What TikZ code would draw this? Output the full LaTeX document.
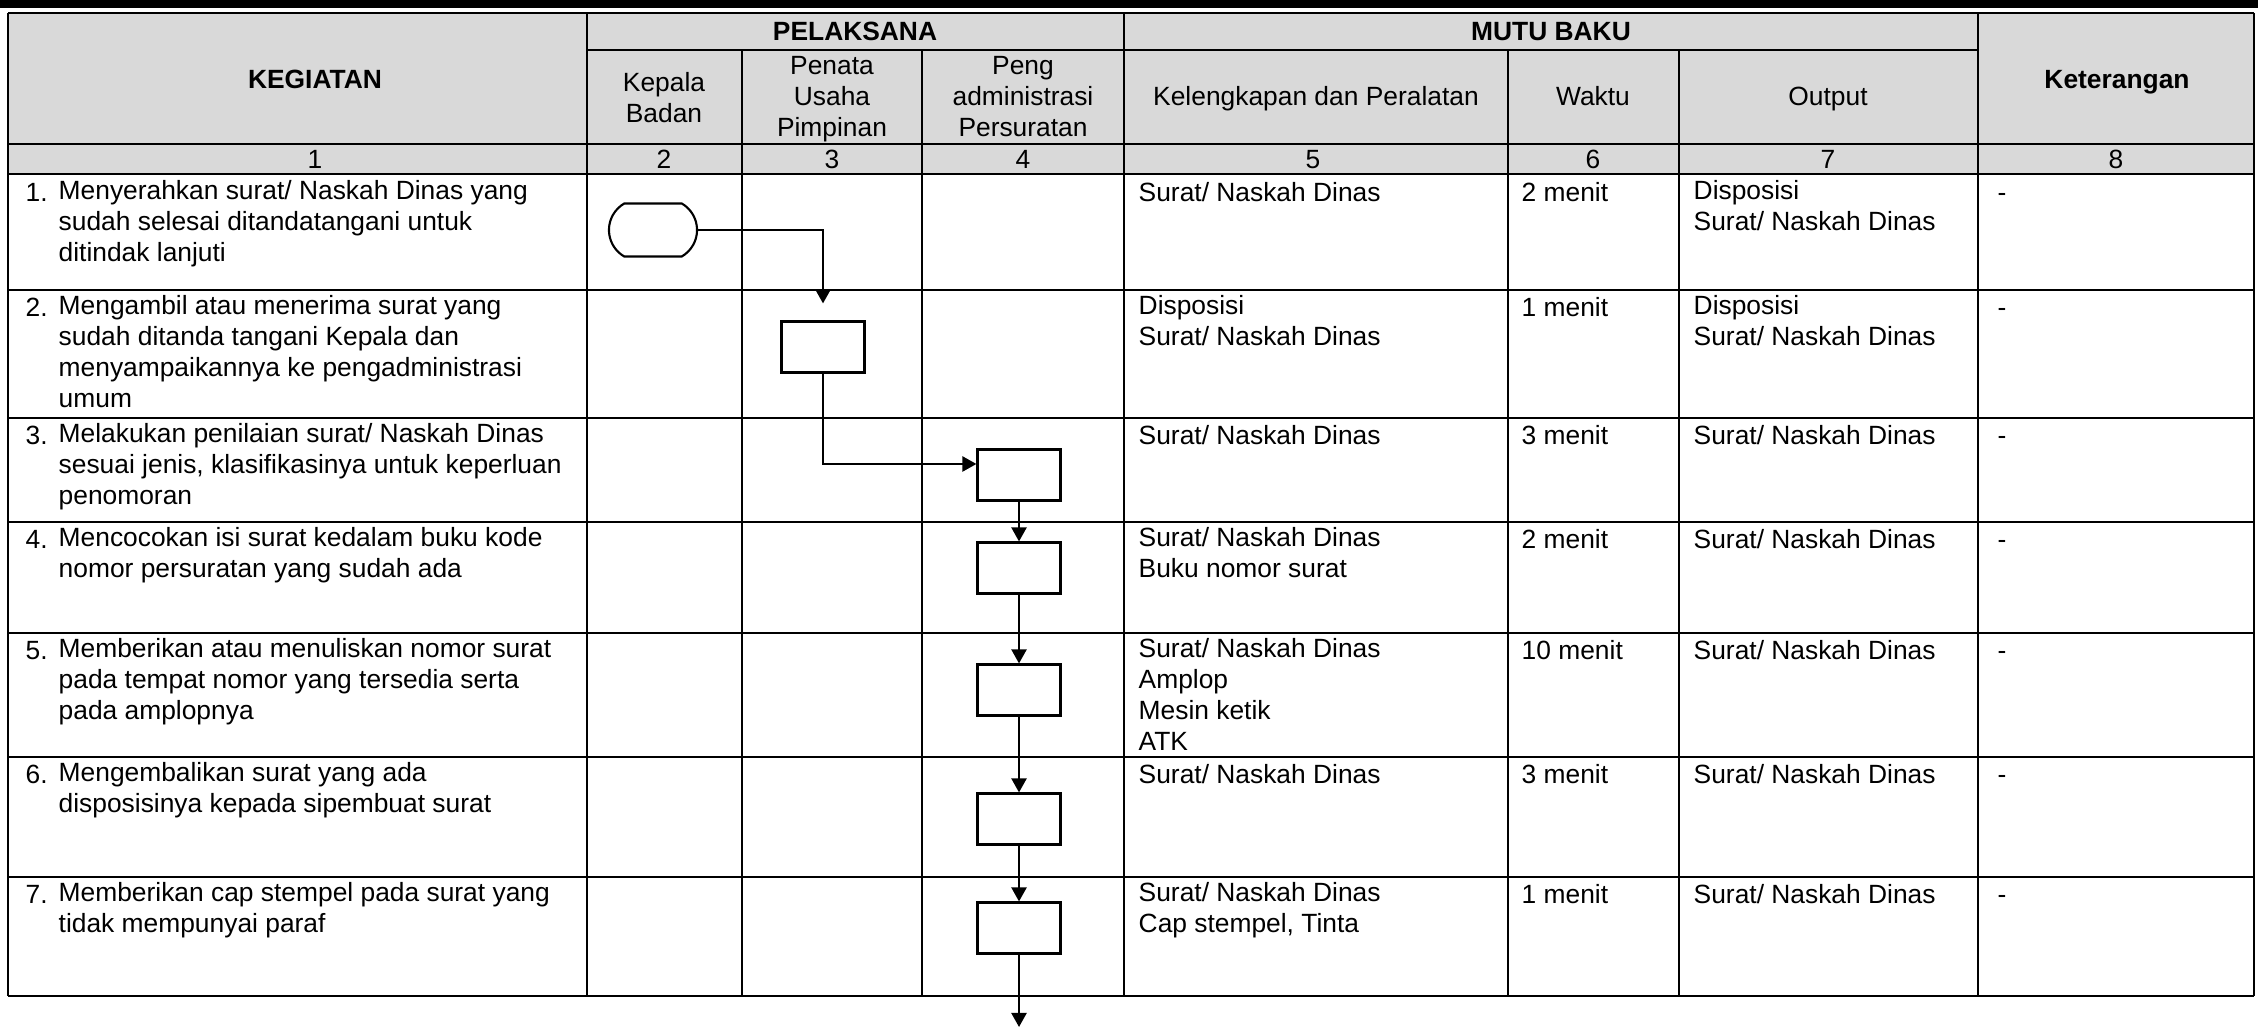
\documentclass[tikz,border=0pt]{standalone}
\usepackage{fontspec}
\setmainfont{Liberation Sans}
\usetikzlibrary{arrows.meta,shapes.misc}
\definecolor{hdrgray}{HTML}{D9D9D9}
\newcommand{\fbody}{\fontsize{7.5}{8.8}\selectfont}
\begin{document}
\begin{tikzpicture}[x=0.01cm,y=-0.01cm,
  grid/.style={line width=0.6pt},
  cell/.style={anchor=north west, inner sep=0pt, align=left, font=\fbody, execute at begin node=\strut},
  hdr/.style={inner sep=0pt, align=center, font=\fbody},
  hdrl/.style={inner sep=0pt, anchor=base, font=\fbody},
  hdrb/.style={inner sep=0pt, anchor=base, font=\fbody\bfseries},
  proc/.style={draw, line width=0.6pt, fill=white, minimum width=0.83cm, minimum height=0.51cm, inner sep=0pt},
  term/.style={draw, line width=0.6pt, fill=white, rounded rectangle, rounded rectangle arc length=120, minimum width=0.88cm, minimum height=0.53cm, inner sep=0pt},
  conn/.style={line width=0.65pt, -{Triangle[length=0.14cm,width=0.15cm]}}
]
\useasboundingbox (0,0) rectangle (2258,1028);
% top black bar
\fill[black] (0,0) rectangle (2258,8);
% header background
\fill[hdrgray] (8,13) rectangle (2254,174);
% horizontal lines
\draw[grid] (8,13) -- (2254,13);
\draw[grid] (587,50) -- (1978,50);
\foreach \yy in {144,174,290,418,522,633,757,877,996}
  \draw[grid] (8,\yy) -- (2254,\yy);
% vertical lines
\foreach \xx in {8,587,1124,1978,2254}
  \draw[grid] (\xx,13) -- (\xx,996);
\foreach \xx in {742,922,1508,1679}
  \draw[grid] (\xx,50) -- (\xx,996);

% header texts
\node[hdrb] (hKeg) at (315,88.5) {KEGIATAN};
\node[hdrb] (hKet) at (2117,88.5) {Keterangan};
\node[hdrb] (hPel) at (855,40.5) {PELAKSANA};
\node[hdrb] (hMut) at (1551,40.5) {MUTU BAKU};
\node[hdr] (hKep) at (664,97.4) {Kepala\\Badan};
\node[hdr] (hPen) at (832,99) {Penata\\Usaha\\Pimpinan};
\node[hdr] (hPeng) at (1023,96.4) {Peng\\administrasi\\Persuratan};
\node[hdrl] (hKel) at (1316,106) {Kelengkapan dan Peralatan};
\node[hdrl] (hWak) at (1593,106) {Waktu};
\node[hdrl] (hOut) at (1828,106) {Output};
% number row
\node[hdrl] (n1) at (315,169) {1};
\node[hdrl] (n2) at (664,169) {2};
\node[hdrl] (n3) at (832,169) {3};
\node[hdrl] (n4) at (1023,169) {4};
\node[hdrl] (n5) at (1313,169) {5};
\node[hdrl] (n6) at (1593,169) {6};
\node[hdrl] (n7) at (1828,169) {7};
\node[hdrl] (n8) at (2116,169) {8};

% column 1
\node[cell] (k1n) at (25,179.5) {1.};
\node[cell] (k1t) at (58,179.5) {Menyerahkan surat/ Naskah Dinas yang\\sudah selesai ditandatangani untuk\\ditindak lanjuti};
\node[cell] (k2n) at (25,294.5) {2.};
\node[cell] (k2t) at (58,294.5) {Mengambil atau menerima surat yang\\sudah ditanda tangani Kepala dan\\menyampaikannya ke pengadministrasi\\umum};
\node[cell] (k3n) at (25,422.5) {3.};
\node[cell] (k3t) at (58,422.5) {Melakukan penilaian surat/ Naskah Dinas\\sesuai jenis, klasifikasinya untuk keperluan\\penomoran};
\node[cell] (k4n) at (25,526.5) {4.};
\node[cell] (k4t) at (58,526.5) {Mencocokan isi surat kedalam buku kode\\nomor persuratan yang sudah ada};
\node[cell] (k5n) at (25,637.5) {5.};
\node[cell] (k5t) at (58,637.5) {Memberikan atau menuliskan nomor surat\\pada tempat nomor yang tersedia serta\\pada amplopnya};
\node[cell] (k6n) at (25,761.5) {6.};
\node[cell] (k6t) at (58,761.5) {Mengembalikan surat yang ada\\disposisinya kepada sipembuat surat};
\node[cell] (k7n) at (25,881.5) {7.};
\node[cell] (k7t) at (58,881.5) {Memberikan cap stempel pada surat yang\\tidak mempunyai paraf};

% column 5 (Kelengkapan dan Peralatan)
\node[cell] (c5r1) at (1138,179.5) {Surat/ Naskah Dinas};
\node[cell] (c5r2) at (1138,294.5) {Disposisi\\Surat/ Naskah Dinas};
\node[cell] (c5r3) at (1138,422.5) {Surat/ Naskah Dinas};
\node[cell] (c5r4) at (1138,526.5) {Surat/ Naskah Dinas\\Buku nomor surat};
\node[cell] (c5r5) at (1138,637.5) {Surat/ Naskah Dinas\\Amplop\\Mesin ketik\\ATK};
\node[cell] (c5r6) at (1138,761.5) {Surat/ Naskah Dinas};
\node[cell] (c5r7) at (1138,881.5) {Surat/ Naskah Dinas\\Cap stempel, Tinta};
% column 6 (Waktu)
\node[cell] (c6r1) at (1521,179.5) {2 menit};
\node[cell] (c6r2) at (1521,294.5) {1 menit};
\node[cell] (c6r3) at (1521,422.5) {3 menit};
\node[cell] (c6r4) at (1521,526.5) {2 menit};
\node[cell] (c6r5) at (1521,637.5) {10 menit};
\node[cell] (c6r6) at (1521,761.5) {3 menit};
\node[cell] (c6r7) at (1521,881.5) {1 menit};
% column 7 (Output)
\node[cell] (c7r1) at (1693,179.5) {Disposisi\\Surat/ Naskah Dinas};
\node[cell] (c7r2) at (1693,294.5) {Disposisi\\Surat/ Naskah Dinas};
\node[cell] (c7r3) at (1693,422.5) {Surat/ Naskah Dinas};
\node[cell] (c7r4) at (1693,526.5) {Surat/ Naskah Dinas};
\node[cell] (c7r5) at (1693,637.5) {Surat/ Naskah Dinas};
\node[cell] (c7r6) at (1693,761.5) {Surat/ Naskah Dinas};
\node[cell] (c7r7) at (1693,881.5) {Surat/ Naskah Dinas};
% column 8 (Keterangan)
\node[cell] (c8r1) at (1997,179.5) {-};
\node[cell] (c8r2) at (1997,294.5) {-};
\node[cell] (c8r3) at (1997,422.5) {-};
\node[cell] (c8r4) at (1997,526.5) {-};
\node[cell] (c8r5) at (1997,637.5) {-};
\node[cell] (c8r6) at (1997,761.5) {-};
\node[cell] (c8r7) at (1997,881.5) {-};

% flowchart shapes
\node[term] (t1) at (653,230) {};
\node[proc] (b2) at (823,347) {};
\node[proc] (b3) at (1019,475) {};
\node[proc] (b4) at (1019,568) {};
\node[proc] (b5) at (1019,690) {};
\node[proc] (b6) at (1019,819) {};
\node[proc] (b7) at (1019,928) {};
\coordinate (endpt) at (1019,1027);

% connectors
\draw[conn, shorten >=0.17cm] (t1.east) -| (b2.north);
\draw[conn] (b2.south) |- ([yshift=0.11cm]b3.west);
\draw[conn] (b3.south) -- (b4.north);
\draw[conn] (b4.south) -- (b5.north);
\draw[conn] (b5.south) -- (b6.north);
\draw[conn] (b6.south) -- (b7.north);
\draw[conn] (b7.south) -- (endpt);
\end{tikzpicture}
\end{document}
